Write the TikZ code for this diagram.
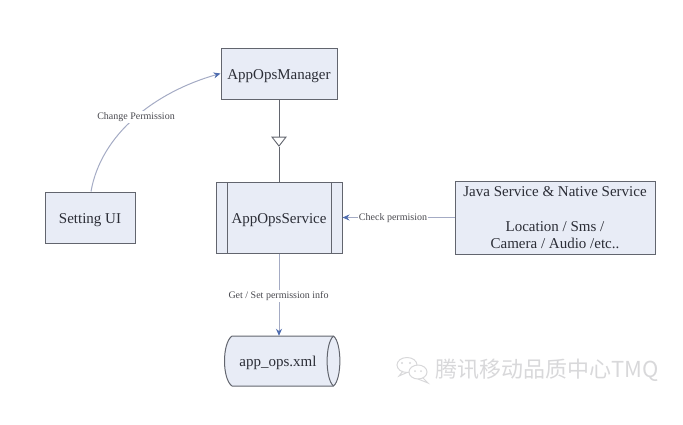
\documentclass[tikz,border=0pt]{standalone}
\usepackage{fontspec}
\setmainfont{Liberation Serif}
\newfontfamily\cjkwm{Noto Sans CJK SC}
\usetikzlibrary{shapes.geometric,arrows.meta}
\definecolor{boxfill}{HTML}{E8ECF6}
\definecolor{boxline}{HTML}{62656E}
\definecolor{connline}{HTML}{A4ABC4}
\definecolor{tipblue}{HTML}{4F6DB0}
\definecolor{txtcol}{HTML}{2B2D36}
\definecolor{lblcol}{HTML}{4A4A50}
\definecolor{wmcol}{HTML}{D8D8DA}
\tikzset{
  x=1pt,y=-1pt,
  umlbox/.style={draw=boxline,fill=boxfill,line width=1pt,rectangle,inner sep=0pt,text=txtcol,font=\fontsize{15}{17.5}\selectfont},
  onetext/.style={text height=13pt,text depth=2pt},
  conn/.style={draw=connline,line width=1pt,-{Stealth[length=7pt,width=6pt,color=tipblue]}},
  solidconn/.style={draw=boxline,line width=1pt},
  lbl/.style={fill=white,inner sep=1pt,text=lblcol,font=\fontsize{10}{11}\selectfont},
}
\begin{document}
\begin{tikzpicture}
\useasboundingbox (0,0) rectangle (683,424);
\node[umlbox,onetext,minimum width=116pt,minimum height=51pt] (mgr) at (279,73.5) {AppOpsManager};
\node[umlbox,onetext,minimum width=126pt,minimum height=71pt] (svc) at (279,217.5) {AppOpsService};
\node[umlbox,onetext,minimum width=90pt,minimum height=51pt] (set) at (90,217.5) {Setting UI};
\node[umlbox,align=center,minimum width=200pt,minimum height=73pt] (java) at (555,217.5) {Java Service \& Native Service\\ \\Location / Sms /\\Camera / Audio /etc..};
% cylinder body
\draw[boxline,fill=boxfill,line width=1pt] (232,336) -- (333.5,336)
  .. controls (342,343) and (342,379) .. (333.5,386) -- (232,386)
  .. controls (222,379) and (222,343) .. (232,336) -- cycle;
\draw[boxline,line width=1pt] (333.5,336) .. controls (325,343) and (325,379) .. (333.5,386);
\node[onetext,rectangle,inner sep=0pt,minimum width=100pt,minimum height=50pt,text=txtcol,font=\fontsize{15}{17.5}\selectfont] (xml) at (278,361) {app\_ops.xml};
\draw[boxline,line width=1pt] (227,182) -- (227,253) (331,182) -- (331,253);
\node[isosceles triangle,shape border rotate=270,isosceles triangle stretches,draw=boxline,fill=white,line width=.9pt,minimum width=14pt,minimum height=9pt,inner sep=0pt] (tri) at (279,140.5) {};
\draw[solidconn] (mgr.south) -- (tri.lower side);
\draw[solidconn] (tri.apex) -- (svc.north);
\draw[conn] (set.north) ++(1,0) .. controls (101,134) and (155,92) .. (mgr.west);
\node[lbl] (l1) at (136,117) {Change Permission};
\draw[conn] (java.west |- svc.east) -- (svc.east);
\node[lbl] (l2) at (393,218) {Check permision};
\draw[conn] (svc.south) -- (xml.north -| svc.south);
\node[lbl] (l3) at (278.5,296) {Get / Set permission info};
% watermark
\begin{scope}[draw=wmcol,line width=1pt,fill=white]
\draw (407,365) ellipse [x radius=10,y radius=7.5];
\draw (403,371) -- (399,376) -- (407,372.5);
\draw[fill=white] (418,372) ellipse [x radius=9,y radius=7];
\draw (423,378) -- (428,383) -- (418,379);
\fill[wmcol] (402,363) circle (1.2) (410,363) circle (1.2) (415,371) circle (1) (421,371) circle (1);
\end{scope}
\node[anchor=west,inner sep=0pt,text=wmcol,font=\fontsize{22}{24}\cjkwm] (wm) at (435,370) {腾讯移动品质中心TMQ};
\end{tikzpicture}
\end{document}
